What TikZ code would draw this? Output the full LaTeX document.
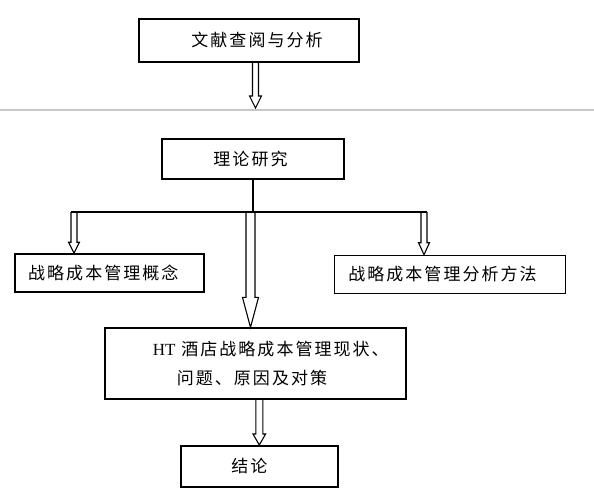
\documentclass[tikz,border=0pt]{standalone}
\usepackage{fontspec}
\setmainfont{Liberation Serif}
\newfontfamily\cjk{Noto Sans CJK SC}[LetterSpace=12]
\usetikzlibrary{calc}
\colorlet{rulecolor}{black!22}
\tikzset{
  box/.style={draw, line width=1.6pt, inner sep=0pt, font=\cjk\fontsize{17}{29}\selectfont},
  hollow/.style={draw, line width=1.1pt, line join=miter},
}
% hollow block arrow: from, to, half shaft, half head, head length
\newcommand\hollowarrow[5]{%
  \draw[hollow] let \p1=(#1), \p2=(#2) in
    (\x1-#3pt,\y1) -- (\x1-#3pt,\y2+#5pt) -- (\x1-#4pt,\y2+#5pt) -- (\x1,\y2)
    -- (\x1+#4pt,\y2+#5pt) -- (\x1+#3pt,\y2+#5pt) -- (\x1+#3pt,\y1);}

\begin{document}
\begin{tikzpicture}[x=1pt, y=-1pt]
        \useasboundingbox (0,0) rectangle (594,495);

        % Boxes
        \node[box, minimum width=220pt, minimum height=43pt] (lit) at (249,40.5) {\hspace*{16pt}文献查阅与分析};
        \node[box, minimum width=182pt, minimum height=40pt] (theory) at (253,159) {理论研究\hspace*{5pt}};
        \node[box, minimum width=189pt, minimum height=38pt] (concept) at (109.3,273) {战略成本管理概念\hspace*{12pt}};
        \node[box, minimum width=231pt, minimum height=38pt] (method) at (450,274.5) {战略成本管理分析方法\hspace*{15pt}};
        \node[box, minimum width=301pt, minimum height=71pt, align=left] (situ) at (255.3,363.7)
                {\hspace*{31pt}{\rmfamily HT} 酒店战略成本管理现状、\\\hspace*{55pt}问题、原因及对策};
        \node[box, minimum width=157pt, minimum height=41pt] (concl) at (259.3,466.3) {结论\hspace*{20pt}};

        % Page rule
        \draw[rulecolor, line width=2pt] (0,110) -- (594,110);

        % Arrows
        \coordinate (tipA) at (255.5,108);
        \hollowarrow{lit.south -| tipA}{tipA}{3}{6}{12}
        \coordinate (forkL) at (71,212);
        \coordinate (forkR) at (427,212);
        \coordinate (brL) at (74,212);
        \coordinate (brM) at (250.5,212);
        \coordinate (brR) at (424,212);
        \hollowarrow{brL}{brL |- concept.north}{3}{5.5}{11}
        \hollowarrow{brM}{brM |- situ.north}{4.5}{8}{30}
        \hollowarrow{brR}{brR |- method.north}{3}{5.5}{12}
        \hollowarrow{situ.south -| concl.north}{concl.north}{3.5}{6.3}{11}
        \draw[line width=1.6pt] (theory.south) -- (theory.south |- forkL);
        \draw[line width=1.6pt] (forkL) -- (forkR);
\end{tikzpicture}
\end{document}
